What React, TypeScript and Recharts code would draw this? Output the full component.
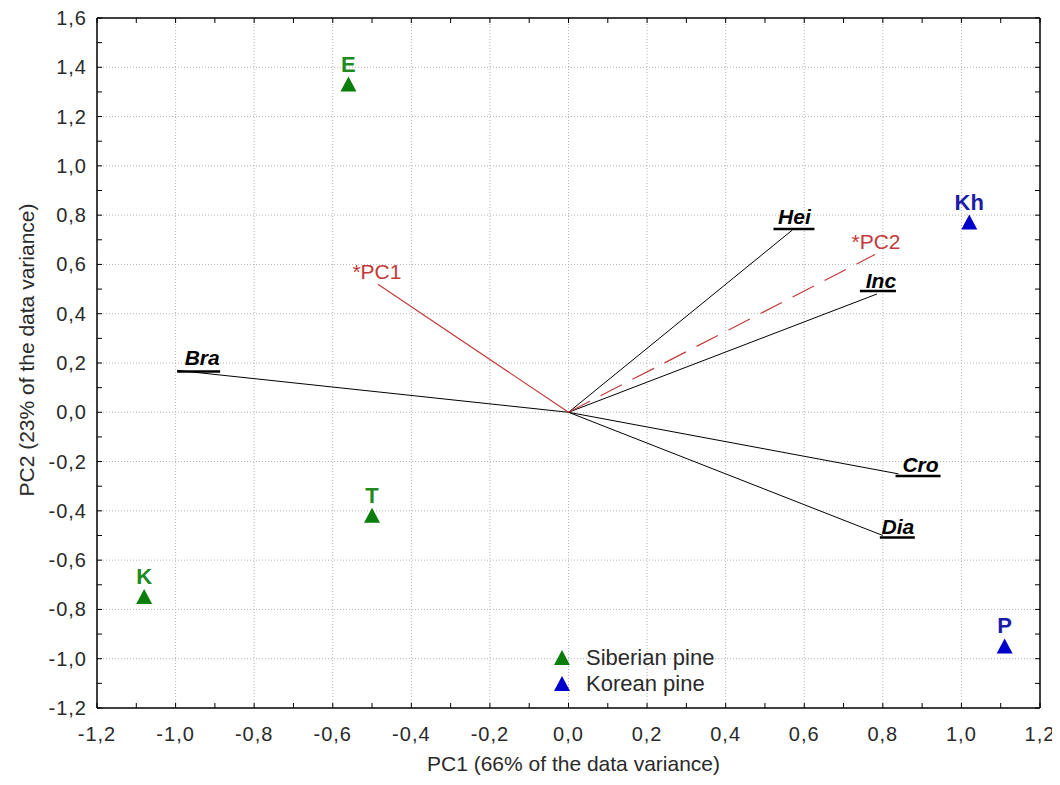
import { CartesianGrid, Legend, Scatter, ScatterChart, XAxis, YAxis } from "recharts";

// tick values (minor every 0.1, labelled every 0.2)
const xTicks = [-1.2, -1.1, -1.0, -0.9, -0.8, -0.7, -0.6, -0.5, -0.4, -0.3, -0.2, -0.1, 0, 0.1, 0.2, 0.3, 0.4, 0.5, 0.6, 0.7, 0.8, 0.9, 1.0, 1.1, 1.2];
const yTicks = [-1.2, -1.1, -1.0, -0.9, -0.8, -0.7, -0.6, -0.5, -0.4, -0.3, -0.2, -0.1, 0, 0.1, 0.2, 0.3, 0.4, 0.5, 0.6, 0.7, 0.8, 0.9, 1.0, 1.1, 1.2, 1.3, 1.4, 1.5, 1.6];
const xGrid = [-1.0, -0.8, -0.6, -0.4, -0.2, 0, 0.2, 0.4, 0.6, 0.8, 1.0];
const yGrid = [-1.0, -0.8, -0.6, -0.4, -0.2, 0, 0.2, 0.4, 0.6, 0.8, 1.0, 1.2, 1.4];

// populations
const siberianNames = ["E", "T", "K"];
const siberianX = [-0.56, -0.5, -1.08];
const siberianY = [1.33, -0.42, -0.75];
const koreanNames = ["Kh", "P"];
const koreanX = [1.02, 1.11];
const koreanY = [0.77, -0.95];

// variable loadings
const varNames = ["Hei", "Inc", "Cro", "Dia", "Bra"];
const varX = [0.57, 0.785, 0.84, 0.8, -0.996];
const varY = [0.74, 0.48, -0.25, -0.5, 0.17];

// supplementary PC vectors
const pcNames = ["*PC1", "*PC2"];
const pcX = [-0.485, 0.78];
const pcY = [0.52, 0.64];

const GREEN = "#0a7d0a";
const BLUE = "#0000cc";
const RED = "#c23a3a";
const TXT = "#2a2a2a";

// label placement relative to vector end (px)
const labelPos: Record<string, { tx: number; ty: number; u?: [number, number, number] }> = {
  Hei: { tx: 2, ty: -6, u: [-19, 22, -1] },
  Inc: { tx: 4, ty: -6, u: [-17, 19, -3] },
  Cro: { tx: 22, ty: -2, u: [-3, 42, 2] },
  Dia: { tx: 15, ty: -2, u: [-3, 32, 2] },
  Bra: { tx: 25, ty: -5, u: [0, 43, 1] },
  "*PC1": { tx: -1, ty: -5 },
  "*PC2": { tx: 1, ty: -6 },
};

const isMajor = (v: number) => Math.abs(Math.round(v * 10)) % 2 === 0;
const fmt = (v: number) => v.toFixed(1).replace(".", ",");

const points = (names: string[], xs: number[], ys: number[]) =>
  names.map((name, i) => ({ name, x: xs[i], y: ys[i] }));

const vector = (name: string, x: number, y: number) => [
  { x: 0, y: 0, name, end: false },
  { x, y, name, end: true },
];

const BottomTick = ({ x, y, payload }: any) => (
  <g>
    <line x1={x} x2={x} y1={y} y2={y - 5} stroke="#000" />
    {isMajor(payload.value) && (
      <text x={x} y={y + 33} textAnchor="middle" fontSize={20} letterSpacing={1} fill={TXT}>
        {fmt(payload.value)}
      </text>
    )}
  </g>
);

const TopTick = ({ x, y }: any) => <line x1={x} x2={x} y1={y} y2={y + 5} stroke="#000" />;

const LeftTick = ({ x, y, payload }: any) => (
  <g>
    <line x1={x} x2={x + 5} y1={y} y2={y} stroke="#000" />
    {isMajor(payload.value) && (
      <text x={x - 10} y={y + 7} textAnchor="end" fontSize={20} letterSpacing={1} fill={TXT}>
        {fmt(payload.value)}
      </text>
    )}
  </g>
);

const RightTick = ({ x, y }: any) => <line x1={x} x2={x - 5} y1={y} y2={y} stroke="#000" />;

const triangle = (color: string, labelColor: string) => (props: any) => {
  const { cx, cy, payload } = props;
  return (
    <g>
      <polygon points={`${cx},${cy - 8} ${cx - 8},${cy + 7} ${cx + 8},${cy + 7}`} fill={color} />
      <text x={cx} y={cy - 13} textAnchor="middle" fontSize={22} fontWeight="bold" fill={labelColor}>
        {payload.name}
      </text>
    </g>
  );
};

const vecEnd = (color: string, pc: boolean) => (props: any) => {
  const { cx, cy, payload } = props;
  if (!payload.end) return <g />;
  const p = labelPos[payload.name];
  return (
    <g>
      <text
        x={cx + p.tx}
        y={cy + p.ty}
        textAnchor="middle"
        fontSize={21}
        fontWeight={pc ? "normal" : "bold"}
        fontStyle={pc ? "normal" : "italic"}
        fill={color}
      >
        {payload.name}
      </text>
      {p.u && (
        <line x1={cx + p.u[0]} x2={cx + p.u[1]} y1={cy + p.u[2]} y2={cy + p.u[2]} stroke="#000" strokeWidth={2.5} />
      )}
    </g>
  );
};

const LegendBox = () => (
  <div style={{ fontFamily: "'Liberation Sans', Arial, sans-serif", fontSize: 22, color: TXT, lineHeight: "26px" }}>
    {[
      { label: "Siberian pine", color: GREEN },
      { label: "Korean pine", color: BLUE },
    ].map((e) => (
      <div key={e.label} style={{ display: "flex", alignItems: "center", height: 26 }}>
        <svg width={18} height={16} style={{ marginRight: 15 }}>
          <polygon points="9,0 1,15 17,15" fill={e.color} />
        </svg>
        <span>{e.label}</span>
      </div>
    ))}
  </div>
);

export default function App() {
  return (
    <div style={{ width: 1052, height: 777 }}>
      <ScatterChart
        width={1052}
        height={777}
        margin={{ top: 0, right: 0, bottom: 0, left: 0 }}
        style={{ fontFamily: "'Liberation Sans', Arial, sans-serif" }}
      >
        <CartesianGrid
          stroke="#b5b5b5"
          strokeDasharray="1 2"
          verticalValues={xGrid}
          horizontalValues={yGrid}
        />
        <XAxis
          type="number"
          dataKey="x"
          domain={[-1.2, 1.2]}
          ticks={xTicks}
          interval={0}
          height={77}
          tickSize={0}
          tickMargin={0}
          tick={<BottomTick />}
          axisLine={{ stroke: "#000", strokeWidth: 1.5 }}
          allowDataOverflow
          label={{
            content: ({ viewBox }: any) => (
              <text x={viewBox.x + viewBox.width / 2 + 5} y={viewBox.y + 63} textAnchor="middle" fontSize={21} fill={TXT}>
                PC1 (66% of the data variance)
              </text>
            ),
          }}
        />
        <XAxis
          xAxisId="top"
          orientation="top"
          type="number"
          dataKey="x"
          domain={[-1.2, 1.2]}
          ticks={xTicks}
          interval={0}
          height={10}
          tickSize={0}
          tickMargin={0}
          tick={<TopTick />}
          axisLine={{ stroke: "#000", strokeWidth: 1.5 }}
          allowDataOverflow
        />
        <YAxis
          type="number"
          dataKey="y"
          domain={[-1.2, 1.6]}
          ticks={yTicks}
          interval={0}
          width={89}
          tickSize={0}
          tickMargin={0}
          tick={<LeftTick />}
          axisLine={{ stroke: "#000", strokeWidth: 1.5 }}
          allowDataOverflow
          label={{
            content: ({ viewBox }: any) => {
              const cx = viewBox.x + 26;
              const cy = viewBox.y + viewBox.height / 2 - 13;
              return (
                <text x={cx} y={cy} transform={`rotate(-90 ${cx} ${cy})`} textAnchor="middle" fontSize={21} fill={TXT}>
                  PC2 (23% of the data variance)
                </text>
              );
            },
          }}
        />
        <YAxis
          yAxisId="right"
          orientation="right"
          type="number"
          dataKey="y"
          domain={[-1.2, 1.6]}
          ticks={yTicks}
          interval={0}
          width={20}
          tickSize={0}
          tickMargin={0}
          tick={<RightTick />}
          axisLine={{ stroke: "#000", strokeWidth: 1.5 }}
          allowDataOverflow
        />

        {varNames.map((n, i) => (
          <Scatter
            key={n}
            name={n}
            data={vector(n, varX[i], varY[i])}
            line={{ stroke: "#000", strokeWidth: 1 }}
            shape={vecEnd("#000", false)}
            legendType="none"
            isAnimationActive={false}
          />
        ))}
        {pcNames.map((n, i) => (
          <Scatter
            key={n}
            name={n}
            data={vector(n, pcX[i], pcY[i])}
            line={{ stroke: RED, strokeWidth: 1.2, strokeDasharray: i === 1 ? "24 12" : undefined }}
            shape={vecEnd(RED, true)}
            legendType="none"
            isAnimationActive={false}
          />
        ))}

        <Scatter
          name="Siberian pine"
          data={points(siberianNames, siberianX, siberianY)}
          shape={triangle(GREEN, "#1f8a1f")}
          isAnimationActive={false}
        />
        <Scatter
          name="Korean pine"
          data={points(koreanNames, koreanX, koreanY)}
          shape={triangle(BLUE, "#1c1caa")}
          isAnimationActive={false}
        />

        <Legend
          layout="vertical"
          align="center"
          verticalAlign="middle"
          content={<LegendBox />}
          wrapperStyle={{ left: 545, top: 637, bottom: "auto", width: "auto" }}
        />
      </ScatterChart>
    </div>
  );
}
